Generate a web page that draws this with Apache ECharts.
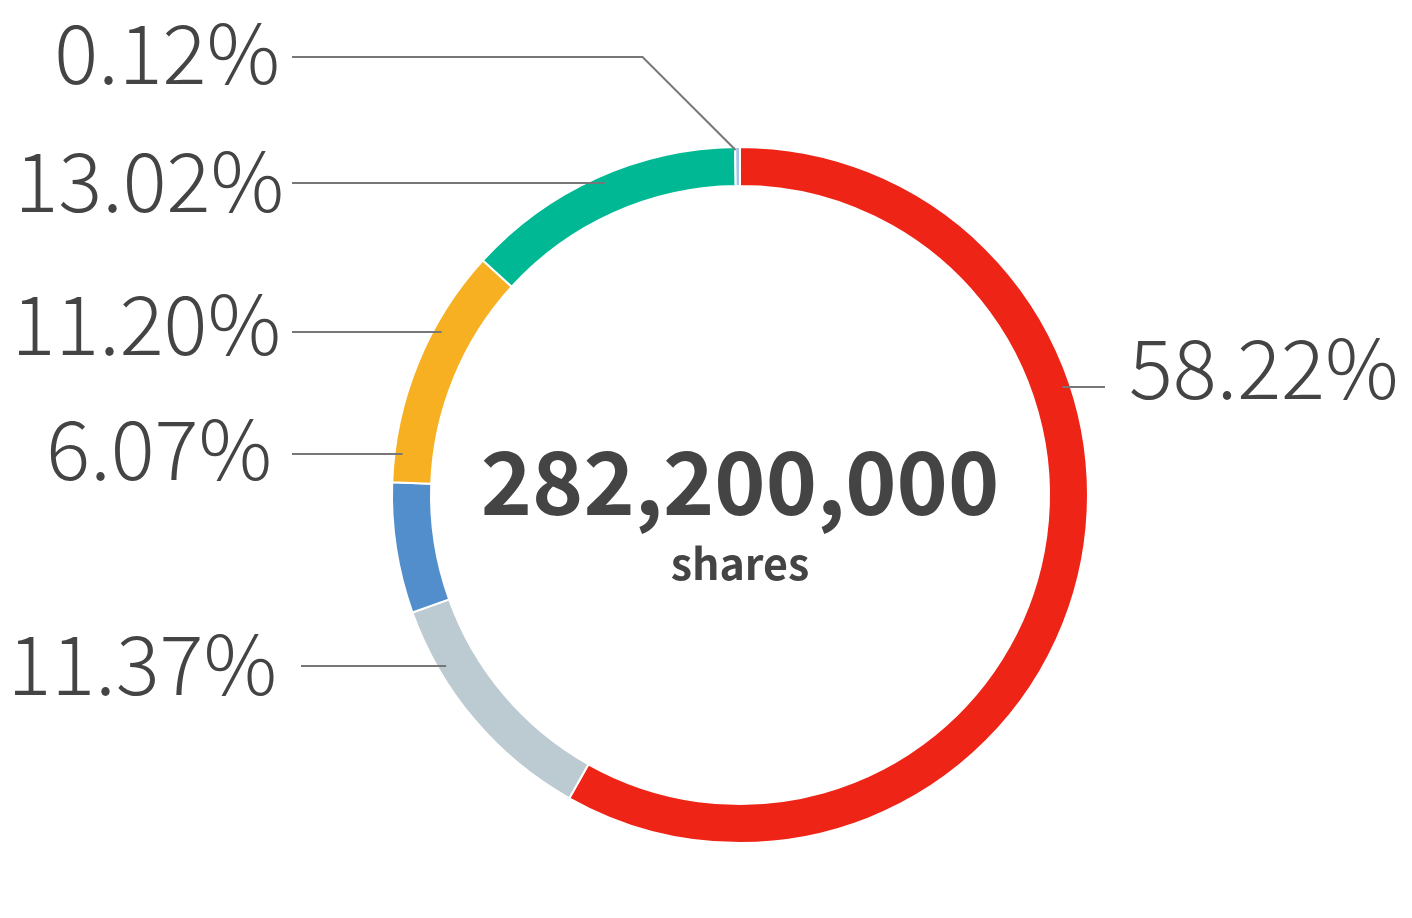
<!DOCTYPE html>
<html>
<head>
<meta charset="utf-8">
<script src="https://cdn.jsdelivr.net/npm/echarts@6/dist/echarts.min.js"></script>
<style>
html,body{margin:0;padding:0;background:#fff;}
#chart{width:1412px;height:918px;}
</style>
</head>
<body>
<div id="chart"></div>
<script>
// ---- data ----
const categories = ['Segment A', 'Segment B', 'Segment C', 'Segment D', 'Segment E', 'Segment F'];
const sharePercents = [58.22, 11.37, 6.07, 11.20, 13.02, 0.12];
const centerValue = '282,200,000';
const centerUnit = 'shares';

// ---- styling / layout ----
const sliceColors = ['#EE2416', '#BCCAD1', '#528ECC', '#F6B022', '#00B994', '#A8C3E4'];
const CX = 740, CY = 495, R_IN = 309, R_OUT = 348, R_LINE = 340;
// label placement: line y, text y, line start x, text anchor x, side
const labelLineY = [387, 666, 454, 332, 183, 57];
const labelTextY = [368, 664, 449, 324, 181, 53];
const labelLineStartX = [1105, 301, 292, 292, 292, 292];
const labelTextX = [1129, 277, 272, 281, 284, 280];
const labelSide = ['right', 'left', 'left', 'left', 'left', 'left'];

const FONT = "'Noto Sans CJK JP', 'Source Sans Pro', 'Noto Sans', sans-serif";

const chart = echarts.init(document.getElementById('chart'), null, {renderer: 'canvas'});

const pieData = categories.map((name, i) => ({ name: name, value: sharePercents[i] }));
const pieBase = {
  type: 'pie',
  center: [CX, CY],
  radius: [R_IN, R_OUT],
  startAngle: 90,
  clockwise: true,
  avoidLabelOverlap: false,
  minAngle: 0.8,
  emphasis: { disabled: true },
  silent: true
};

const option = {
  backgroundColor: '#ffffff',
  animation: false,
  color: sliceColors,
  graphic: [
    {
      type: 'text', x: CX, y: 482,
      style: { text: centerValue, align: 'center', verticalAlign: 'middle',
        font: "bold 87px " + FONT, fill: '#444444' }
    },
    {
      type: 'text', x: CX, y: 564,
      style: { text: centerUnit, align: 'center', verticalAlign: 'middle',
        font: "bold 43px " + FONT, fill: '#444444' }
    }
  ],
  series: [
    Object.assign({}, pieBase, {
      z: 2,
      itemStyle: { borderColor: '#ffffff', borderWidth: 2 },
      label: { show: false },
      labelLine: { show: false },
      data: pieData
    }),
    Object.assign({}, pieBase, {
      z: 5,
      itemStyle: { color: 'rgba(0,0,0,0)', borderWidth: 0 },
      label: {
        show: true,
        formatter: p => p.value.toFixed(2) + '%',
        fontFamily: FONT,
        fontWeight: 300,
        fontSize: 82,
        color: '#444444'
      },
      labelLine: { show: true, showAbove: true, lineStyle: { color: '#777777', width: 2, opacity: 1 } },
      labelLayout: function (params) {
        const i = params.dataIndex;
        const ly = labelLineY[i];
        const dy = ly - CY;
        const sx = labelLineStartX[i];
        let pts;
        if (Math.abs(dy) < R_LINE) {
          const dx = Math.sqrt(R_LINE * R_LINE - dy * dy);
          const ex = labelSide[i] === 'left' ? CX - dx : CX + dx;
          pts = [[ex, ly], [ex, ly], [sx, ly]];
        } else {
          const p0 = params.labelLinePoints ? params.labelLinePoints[0] : [CX, CY - R_OUT];
          const ex = p0[0] - 2, ey = p0[1] + 3;
          const bx = ex - (ey - ly);
          pts = [[ex, ey], [bx, ly], [sx, ly]];
        }
        return {
          x: labelTextX[i],
          y: labelTextY[i],
          align: labelSide[i] === 'left' ? 'right' : 'left',
          verticalAlign: 'middle',
          labelLinePoints: pts
        };
      },
      data: pieData
    })
  ]
};
chart.setOption(option);
</script>
</body>
</html>
